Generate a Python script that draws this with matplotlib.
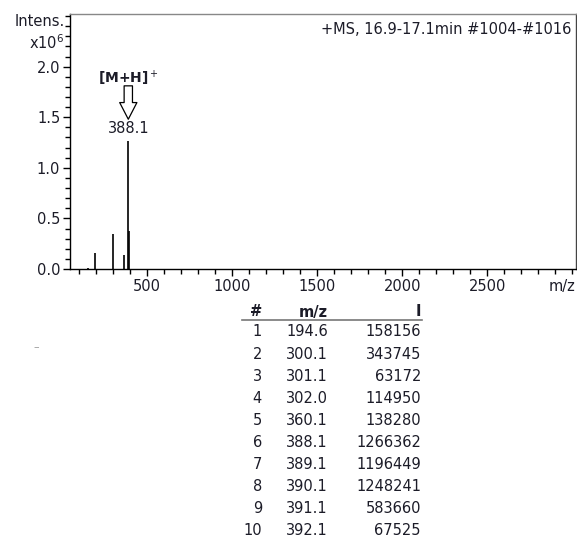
import matplotlib
matplotlib.use('Agg')
import matplotlib.pyplot as plt
from matplotlib.ticker import MultipleLocator, FormatStrFormatter

# spectrum as drawn (intensity in units of 1e6)
peak_mz = [150.0, 194.6, 250.0, 300.1, 360.1, 388.1, 391.1, 560.0]
peak_int = [0.01, 0.158, 0.004, 0.344, 0.138, 1.266, 0.38, 0.004]

# peak table
tab_idx = [1, 2, 3, 4, 5, 6, 7, 8, 9, 10]
tab_mz = [194.6, 300.1, 301.1, 302.0, 360.1, 388.1, 389.1, 390.1, 391.1, 392.1]
tab_int = [158156, 343745, 63172, 114950, 138280, 1266362, 1196449, 1248241, 583660, 67525]

W, H = 577, 540
ink = '#1c1c28'
plt.rcParams['font.family'] = ['DejaVu Sans']
plt.rcParams['font.size'] = 10.5

fig = plt.figure(figsize=(W / 100, H / 100), dpi=100)
ax = fig.add_axes([70 / W, 1 - 269 / H, (575.5 - 70) / W, (269 - 14) / H])

ax.vlines(peak_mz, 0, peak_int, color='black', linewidth=1.2)

ax.set_xlim(45, 3020)
ax.set_ylim(0, 2.52)
ax.xaxis.set_minor_locator(MultipleLocator(100))
ax.yaxis.set_minor_locator(MultipleLocator(0.1))
ax.set_xticks([500, 1000, 1500, 2000, 2500])
ax.set_yticks([0.0, 0.5, 1.0, 1.5, 2.0])
ax.yaxis.set_major_formatter(FormatStrFormatter('%.1f'))
ax.tick_params(which='major', length=5, width=1, colors='black', labelcolor=ink, pad=2)
ax.tick_params(which='minor', length=3.5, width=1, colors='black')
for s in ax.spines.values():
    s.set_linewidth(1.0)
ax.spines['top'].set_color('#888888')
ax.spines['right'].set_color('#444444')

# axis captions
fig.text(65 / W, 1 - 21 / H, 'Intens.', ha='right', va='center', color=ink, fontsize=10.5)
fig.text(64 / W, 1 - 43 / H, r'x10$^6$', ha='right', va='center', color=ink, fontsize=10.5)
fig.text(575 / W, 1 - 286 / H, 'm/z', ha='right', va='center', color=ink)
ax.text(0.992, 0.97, '+MS, 16.9-17.1min #1004-#1016', transform=ax.transAxes,
        ha='right', va='top', color=ink)

# precursor annotation
ax.text(388.1, 1.88, r'[M+H]$^+$', ha='center', va='center', fontweight='bold',
        fontsize=10, color=ink)
ax.annotate('', xy=(388.1, 1.48), xytext=(388.1, 1.81),
            arrowprops=dict(arrowstyle='simple,head_length=0.6,head_width=0.62,tail_width=0.3',
                            fc='white', ec='black', lw=0.9, mutation_scale=20,
                            shrinkA=0, shrinkB=0))
ax.text(388.1, 1.385, '388.1', ha='center', va='center', color=ink)

# peak table under the axes
col_r = [262 / W, 328 / W, 421 / W]
fig.text(col_r[0], 1 - 312 / H, '#', ha='right', va='center', fontweight='bold', color=ink)
fig.text(col_r[1], 1 - 312 / H, 'm/z', ha='right', va='center', fontweight='bold', color=ink)
fig.text(col_r[2], 1 - 312 / H, 'I', ha='right', va='center', fontweight='bold', color=ink)
fig.add_artist(plt.Line2D([242 / W, 422 / W], [1 - 320 / H, 1 - 320 / H],
                          color='#777777', linewidth=1.2))
for i in range(len(tab_idx)):
    y = 1 - (332 + 22.1 * i) / H
    fig.text(col_r[0], y, str(tab_idx[i]), ha='right', va='center', color=ink)
    fig.text(col_r[1], y, '%.1f' % tab_mz[i], ha='right', va='center', color=ink)
    fig.text(col_r[2], y, str(tab_int[i]), ha='right', va='center', color=ink)

fig.text(36 / W, 1 - 347 / H, '–', ha='center', va='center', color='#999999', fontsize=8)

fig.savefig('out.png', dpi=100)
